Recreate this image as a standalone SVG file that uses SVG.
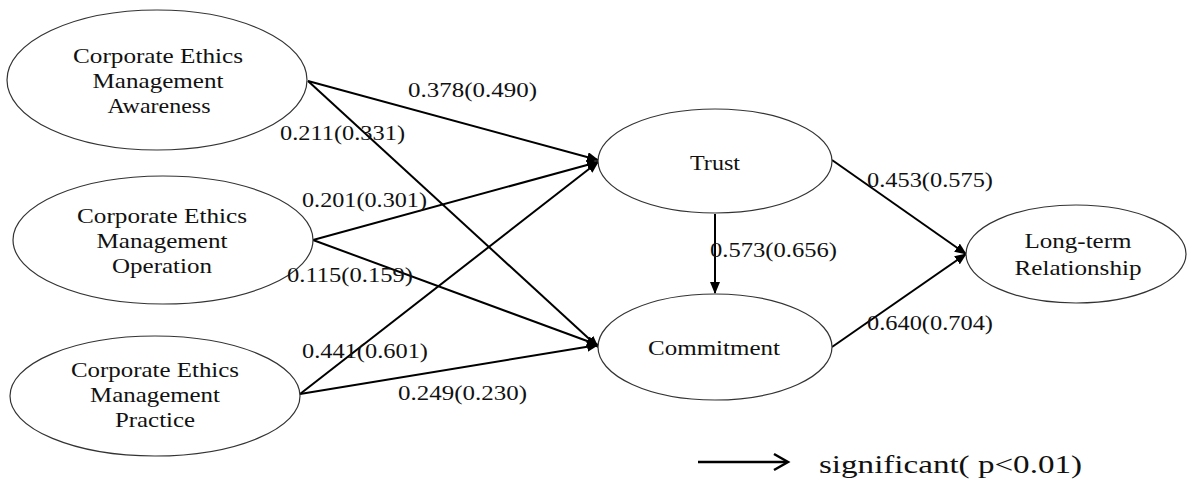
<svg xmlns="http://www.w3.org/2000/svg" width="1187" height="481" viewBox="0 0 1187 481">
<style>
.node ellipse{fill:#fff;stroke:#333;stroke-width:1.2}
.nt{font-family:"Liberation Serif","Times New Roman",serif;font-size:22px;fill:#111;text-anchor:middle}
.lb{font-family:"Liberation Serif","Times New Roman",serif;font-size:20px;fill:#111}
.edge{stroke:#000;stroke-width:2;fill:none;marker-end:url(#ah)}
</style>
<defs>
<marker id="ah" viewBox="0 0 12 10" refX="11" refY="5" markerWidth="12" markerHeight="10" markerUnits="userSpaceOnUse" orient="auto">
<path d="M0,0 L12,5 L0,10 z" fill="#000"/>
</marker>
</defs>
<rect width="1187" height="481" fill="#fff"/>
<g id="edges">
<line class="edge" x1="308" y1="81" x2="598" y2="160"/>
<line class="edge" x1="308" y1="81" x2="598" y2="347"/>
<line class="edge" x1="313" y1="240" x2="598" y2="162"/>
<line class="edge" x1="313" y1="240" x2="598" y2="345"/>
<line class="edge" x1="300" y1="394" x2="598" y2="162"/>
<line class="edge" x1="300" y1="394" x2="598" y2="345"/>
<line class="edge" x1="715" y1="214" x2="715" y2="293"/>
<line class="edge" x1="832" y1="160" x2="966" y2="254"/>
<line class="edge" x1="832" y1="347" x2="966" y2="254"/>
</g>
<g id="n_awareness" class="node">
<ellipse cx="157" cy="80" rx="150" ry="70"/>
<text class="nt" x="158" y="63" textLength="170" lengthAdjust="spacingAndGlyphs">Corporate Ethics</text>
<text class="nt" x="158" y="88" textLength="131" lengthAdjust="spacingAndGlyphs">Management</text>
<text class="nt" x="159" y="113" textLength="103" lengthAdjust="spacingAndGlyphs">Awareness</text>
</g>
<g id="n_operation" class="node">
<ellipse cx="163" cy="240" rx="150" ry="64"/>
<text class="nt" x="162" y="223" textLength="170" lengthAdjust="spacingAndGlyphs">Corporate Ethics</text>
<text class="nt" x="162" y="248" textLength="131" lengthAdjust="spacingAndGlyphs">Management</text>
<text class="nt" x="162" y="273" textLength="100" lengthAdjust="spacingAndGlyphs">Operation</text>
</g>
<g id="n_practice" class="node">
<ellipse cx="155" cy="396" rx="145" ry="60"/>
<text class="nt" x="155" y="377" textLength="168" lengthAdjust="spacingAndGlyphs">Corporate Ethics</text>
<text class="nt" x="155" y="402" textLength="130" lengthAdjust="spacingAndGlyphs">Management</text>
<text class="nt" x="155" y="427" textLength="80" lengthAdjust="spacingAndGlyphs">Practice</text>
</g>
<g id="n_trust" class="node">
<ellipse cx="715" cy="161" rx="117" ry="52"/>
<text class="nt" x="715" y="170" textLength="50" lengthAdjust="spacingAndGlyphs">Trust</text>
</g>
<g id="n_commitment" class="node">
<ellipse cx="715" cy="347" rx="117" ry="53"/>
<text class="nt" x="714" y="355" textLength="132" lengthAdjust="spacingAndGlyphs">Commitment</text>
</g>
<g id="n_longterm" class="node">
<ellipse cx="1076" cy="254" rx="110" ry="49"/>
<text class="nt" x="1078" y="248" textLength="107" lengthAdjust="spacingAndGlyphs">Long-term</text>
<text class="nt" x="1078" y="275" textLength="127" lengthAdjust="spacingAndGlyphs">Relationship</text>
</g>
<g id="labels">
<text class="lb" x="408" y="97" textLength="129" lengthAdjust="spacingAndGlyphs">0.378(0.490)</text>
<text class="lb" x="280" y="140" textLength="125" lengthAdjust="spacingAndGlyphs">0.211(0.331)</text>
<text class="lb" x="302" y="207" textLength="125" lengthAdjust="spacingAndGlyphs">0.201(0.301)</text>
<text class="lb" x="287" y="282" textLength="126" lengthAdjust="spacingAndGlyphs">0.115(0.159)</text>
<text class="lb" x="302" y="358" textLength="126" lengthAdjust="spacingAndGlyphs">0.441(0.601)</text>
<text class="lb" x="398" y="400" textLength="129" lengthAdjust="spacingAndGlyphs">0.249(0.230)</text>
<text class="lb" x="710" y="257" textLength="127" lengthAdjust="spacingAndGlyphs">0.573(0.656)</text>
<text class="lb" x="867" y="187" textLength="126" lengthAdjust="spacingAndGlyphs">0.453(0.575)</text>
<text class="lb" x="867" y="330" textLength="126" lengthAdjust="spacingAndGlyphs">0.640(0.704)</text>
</g>
<g id="legend">
<line x1="698" y1="462" x2="787" y2="462" stroke="#000" stroke-width="2.5"/>
<path d="M774,454 L788,462 L774,470" fill="none" stroke="#000" stroke-width="2.5"/>
<text x="819" y="473" font-family="Liberation Serif,Times New Roman,serif" font-size="26" fill="#111" textLength="263" lengthAdjust="spacingAndGlyphs">significant( p&lt;0.01)</text>
</g>
</svg>
